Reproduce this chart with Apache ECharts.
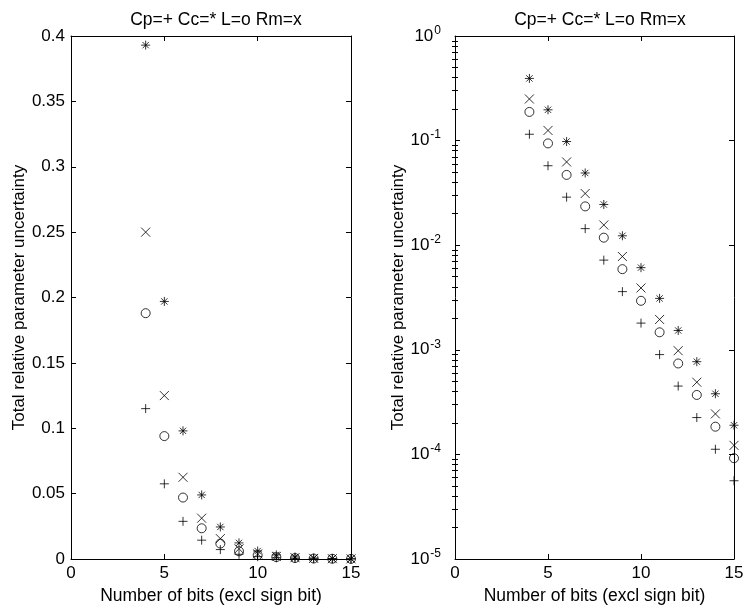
<!DOCTYPE html>
<html>
<head>
<meta charset="utf-8">
<script src="https://cdn.jsdelivr.net/npm/echarts@6/dist/echarts.min.js"></script>
<style>
  html, body { margin: 0; padding: 0; background: #fff; }
  #chart { width: 744px; height: 608px; }
</style>
</head>
<body>
<div id="chart"></div>
<script>
// number of bits (excl sign bit)
const bits = [4, 5, 6, 7, 8, 9, 10, 11, 12, 13, 14, 15];

// total relative parameter uncertainty per parameter
const cp = [0.115, 0.0575, 0.0288, 0.0144, 0.0072, 0.0036, 0.0018, 0.0009, 0.00045, 0.000225, 0.000112, 0.000056];
const cc = [0.393, 0.197, 0.098, 0.049, 0.0245, 0.0123, 0.0061, 0.0031, 0.00153, 0.00077, 0.00038, 0.00019];
const lv = [0.188, 0.094, 0.047, 0.0235, 0.0118, 0.0059, 0.00294, 0.00147, 0.00074, 0.00037, 0.000184, 0.000092];
const rm = [0.25, 0.125, 0.0625, 0.0312, 0.0156, 0.0078, 0.0039, 0.00195, 0.00098, 0.00049, 0.000244, 0.000122];

// minor ticks of the log axis (2..9 in every decade)
const decades = [1e-5, 1e-4, 1e-3, 1e-2, 1e-1];
const mantissas = [2, 3, 4, 5, 6, 7, 8, 9];
const logMinor = [];
decades.forEach(d => mantissas.forEach(m => logMinor.push(+(m * d).toPrecision(2))));

const FONT = 'Liberation Sans, Arial, Helvetica, sans-serif';
const FS_TICK = 17;
const FS_TEXT = 17.5;

const chart = echarts.init(document.getElementById('chart'), null, { renderer: 'canvas' });

const pair = v => bits.map((b, i) => [b, v[i]]);

// marker paths, drawn as strokes only
const markers = {
    plus: 'path://M0,5L10,5M5,0L5,10',
    star: 'path://M0,5L10,5M5,0L5,10M1.5,1.5L8.5,8.5M8.5,1.5L1.5,8.5',
    circle: 'circle',
    cross: 'path://M0,0L10,10M10,0L0,10'
};

const makeSeries = (name, values, sym, xi, yi) => ({
    name,
    type: 'scatter',
    xAxisIndex: xi,
    yAxisIndex: yi,
    symbol: markers[sym],
    symbolSize: 9,
    clip: false,
    silent: true,
    z: 5,
    itemStyle: { color: 'transparent', borderColor: '#000', borderWidth: 1 },
    data: pair(values)
});

const tick = len => ({ show: true, inside: true, length: len, lineStyle: { color: '#000', width: 1 } });
const line = () => ({ show: true, onZero: false, lineStyle: { color: '#000', width: 1 } });

const xBase = (gi, pos) => ({
    type: 'value',
    gridIndex: gi,
    position: pos,
    min: 0,
    max: 15,
    interval: 5,
    axisLine: line(),
    axisTick: tick(5),
    axisLabel: { show: pos === 'bottom', color: '#000', fontSize: FS_TICK, fontFamily: FONT, margin: 6 },
    splitLine: { show: false },
    name: pos === 'bottom' ? 'Number of bits (excl sign bit)' : '',
    nameLocation: 'middle',
    nameGap: 25,
    nameTextStyle: { color: '#000', fontSize: FS_TEXT, fontFamily: FONT }
});

const yLinear = pos => ({
    type: 'value',
    gridIndex: 0,
    position: pos,
    min: 0,
    max: 0.4,
    interval: 0.05,
    axisLine: line(),
    axisTick: tick(5),
    axisLabel: { show: pos === 'left', color: '#000', fontSize: FS_TICK, fontFamily: FONT, margin: 6 },
    splitLine: { show: false },
    name: pos === 'left' ? 'Total relative parameter uncertainty' : '',
    nameLocation: 'middle',
    nameGap: 40,
    nameTextStyle: { color: '#000', fontSize: FS_TICK, fontFamily: FONT }
});

const yLog = (pos, minor) => ({
    type: 'log',
    logBase: 10,
    gridIndex: 1,
    position: pos,
    min: 1e-5,
    max: 1,
    axisLine: minor ? { show: false } : line(),
    axisTick: minor ? Object.assign(tick(3), { customValues: logMinor }) : tick(5),
    axisLabel: {
        show: !minor && pos === 'left',
        color: '#000',
        fontSize: FS_TICK,
        fontFamily: FONT,
        margin: 14,
        formatter: v => '10{s|' + Math.round(Math.log10(v)) + '}',
        rich: { s: { fontSize: 12, fontFamily: FONT, color: '#000', padding: [0, 0, 11, 1] } }
    },
    splitLine: { show: false },
    name: !minor && pos === 'left' ? 'Total relative parameter uncertainty' : '',
    nameLocation: 'middle',
    nameGap: 43,
    nameTextStyle: { color: '#000', fontSize: FS_TICK, fontFamily: FONT }
});

const titleText = 'Cp=+ Cc=* L=o Rm=x';
const titleStyle = { color: '#000', fontSize: FS_TEXT, fontWeight: 'normal', fontFamily: FONT };

const option = {
    backgroundColor: '#fff',
    animation: false,
    title: [
        { text: titleText, left: 211, top: 6, textAlign: 'center', textStyle: titleStyle },
        { text: titleText, left: 595, top: 6, textAlign: 'center', textStyle: titleStyle }
    ],
    grid: [
        { left: 71, top: 36, width: 280, height: 523, outerBoundsMode: 'none' },
        { left: 455, top: 36, width: 279, height: 523, outerBoundsMode: 'none' }
    ],
    xAxis: [xBase(0, 'bottom'), xBase(0, 'top'), xBase(1, 'bottom'), xBase(1, 'top')],
    yAxis: [yLinear('left'), yLinear('right'), yLog('left', false), yLog('right', false), yLog('left', true), yLog('right', true)],
    series: [
        makeSeries('Cp', cp, 'plus', 0, 0),
        makeSeries('Cc', cc, 'star', 0, 0),
        makeSeries('L', lv, 'circle', 0, 0),
        makeSeries('Rm', rm, 'cross', 0, 0),
        makeSeries('Cp', cp, 'plus', 2, 2),
        makeSeries('Cc', cc, 'star', 2, 2),
        makeSeries('L', lv, 'circle', 2, 2),
        makeSeries('Rm', rm, 'cross', 2, 2)
    ]
};

chart.setOption(option);
</script>
</body>
</html>
